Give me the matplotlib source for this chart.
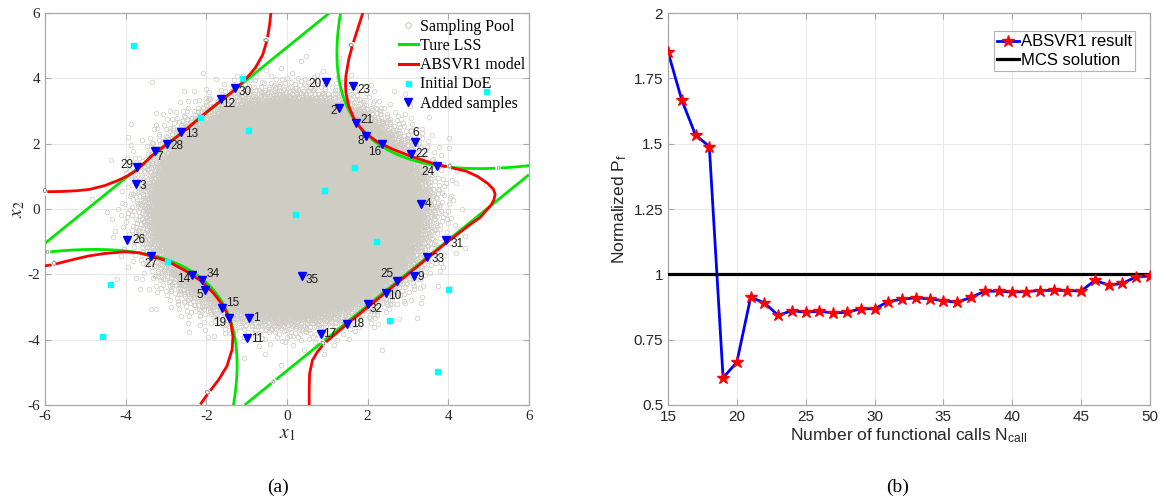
import numpy as np
import matplotlib
matplotlib.use('Agg')
import matplotlib.pyplot as plt
from matplotlib.lines import Line2D

plt.rcParams['font.family'] = ['Liberation Serif', 'DejaVu Serif']
plt.rcParams['mathtext.fontset'] = 'stix'
plt.rcParams['axes.unicode_minus'] = False

SANS = ['Liberation Sans', 'DejaVu Sans']

# ---------------- data: panel (a) ----------------
# initial design of experiments (15 points)
doe_x1 = [-3.81, -1.11, -2.15, -0.97, 1.67, 0.91, 0.20, 4.94, 2.21, -2.97, -4.39, -4.59, 3.98, 2.54, 3.73]
doe_x2 = [5.01, 4.00, 2.83, 2.43, 1.30, 0.59, -0.16, 3.62, -0.97, -1.58, -2.31, -3.88, -2.46, -3.41, -4.95]

# added samples 1..35
add_x1 = [-0.93, 1.28, -3.75, 3.33, -2.03, 3.17, -3.27, 1.97, 3.16, 2.46,
          -0.98, -1.64, -2.62, -2.35, -1.60, 2.36, 0.84, 1.49, -1.45, 0.97,
          1.72, 3.07, 1.64, 3.72, 2.72, -3.96, -3.36, -2.98, -3.73, -1.29,
          3.95, 2.00, 3.48, -2.11, 0.38]
add_x2 = [-3.34, 3.08, 0.76, 0.14, -2.47, 2.06, 1.78, 2.24, -2.05, -2.56,
          -3.95, 3.36, 2.35, -2.01, -3.02, 1.99, -3.83, -3.51, -3.34, 3.90,
          2.63, 1.69, 3.76, 1.31, -2.21, -0.96, -1.43, 1.99, 1.29, 3.70,
          -0.96, -2.90, -1.47, -2.18, -2.05]
# label placement (offset in points, horizontal alignment)
lab_dx = [2.5, -1.5, 2.5, 2.5, -1.5, 0.5, 1, -1.5, 2.5, 1.5,
          2.5, 1, 2.5, -1.5, 2.5, -1, 1.5, 2.5, -1.5, -3,
          3, 3, 3, -1.5, -2, 3.5, -0.5, 2.5, -2, 2.5,
          3, 1.5, 3, 3, 2.5]
lab_dy = [0, -2, -1, 0, -4, 6, -4.5, -3.5, -1, -2.5,
          -1, -3.5, -1, -3, 3, -6, 0, 0, -3.5, -1.5,
          2.5, 0, -2.5, -4.5, 5, 0, -6, -1.5, 1.5, -3,
          -2.5, -4, -1.5, 4.5, -3]
lab_ha = ['left', 'right', 'left', 'left', 'right', 'center', 'left', 'right', 'left', 'left',
          'left', 'left', 'left', 'right', 'left', 'right', 'left', 'left', 'right', 'right',
          'left', 'left', 'left', 'right', 'right', 'left', 'center', 'left', 'right', 'left',
          'left', 'left', 'left', 'left', 'left']

# ABSVR1 model limit state
red_ul_x = [-6.0, -5.6, -5.2, -4.9, -4.51, -4.18, -3.93, -3.73, -3.27, -2.61, -1.94, -1.28,
            -1.03, -0.9, -0.78, -0.6, -0.49, -0.43, -0.40]
red_ul_y = [0.53, 0.535, 0.56, 0.60, 0.72, 0.88, 1.03, 1.18, 1.72, 2.32, 3.02, 3.66,
            3.97, 4.15, 4.33, 4.73, 5.19, 5.65, 6.0]
red_ur_x = [1.88, 1.75, 1.63, 1.53, 1.46, 1.45, 1.46, 1.53, 1.67, 1.88, 2.21, 2.62, 3.12,
            3.61, 4.02, 4.44, 4.72, 4.98, 5.12, 5.16, 5.13, 5.06, 4.93, 4.78, 4.60, 3.93,
            2.69, 1.50, 0.92, 0.75, 0.63, 0.56, 0.55, 0.55]
red_ur_y = [6.0, 5.5, 5.04, 4.58, 4.07, 3.8, 3.56, 3.15, 2.74, 2.39, 2.08, 1.83, 1.59,
            1.40, 1.28, 1.16, 1.0, 0.78, 0.60, 0.45, 0.28, 0.12, -0.06, -0.27, -0.42, -1.05,
            -2.31, -3.51, -4.12, -4.38, -4.63, -5.04, -5.55, -6.0]
red_ll_x = [-6.0, -5.78, -5.51, -4.93, -4.51, -4.02, -3.68, -3.35, -2.94, -2.52, -2.11, -1.82,
            -1.57, -1.40, -1.34, -1.36, -1.49, -1.69, -1.94, -2.15]
red_ll_y = [-1.74, -1.70, -1.61, -1.44, -1.36, -1.31, -1.34, -1.44, -1.61, -1.89, -2.22, -2.58,
            -2.98, -3.44, -3.90, -4.30, -4.81, -5.22, -5.62, -5.98]
red_lab_idx = {'ul': [0, 16], 'ur': [2, 14, 28], 'll': [1, 18]}

# ---------------- data: panel (b) ----------------
n_call = list(range(15, 51))
pf_norm = [1.851, 1.667, 1.533, 1.489, 0.604, 0.664, 0.912, 0.891, 0.843, 0.861,
           0.855, 0.859, 0.852, 0.855, 0.868, 0.868, 0.896, 0.905, 0.910, 0.906,
           0.899, 0.893, 0.912, 0.935, 0.936, 0.932, 0.934, 0.938, 0.939, 0.938,
           0.936, 0.977, 0.959, 0.965, 0.991, 0.993]
mcs_pf = 1.0


# four-branch series system (true limit state function, k = 7)
def g_four_branch(x1, x2, k=7.0):
    s = np.sqrt(2.0)
    b1 = 3 + 0.1 * (x1 - x2) ** 2 - (x1 + x2) / s
    b2 = 3 + 0.1 * (x1 - x2) ** 2 + (x1 + x2) / s
    b3 = (x1 - x2) + k / s
    b4 = (x2 - x1) + k / s
    return np.minimum(np.minimum(b1, b2), np.minimum(b3, b4))


# Monte Carlo sampling pool: standard normal via Halton sequence + Box-Muller
def halton(n, base):
    i = np.arange(1, n + 1)
    f = 1.0
    r = np.zeros(n)
    while np.any(i > 0):
        f /= base
        r += f * (i % base)
        i //= base
    return r


n_pool = 600000
u1 = halton(n_pool, 2)
u2 = halton(n_pool, 3)
rad = np.sqrt(-2.0 * np.log(1.0 - u1))
pool_x1 = rad * np.cos(2 * np.pi * u2)
pool_x2 = rad * np.sin(2 * np.pi * u2)

fig = plt.figure(figsize=(11.74, 5.04), dpi=100)
ax1 = fig.add_axes([45 / 1174, 1 - 405 / 504, 484 / 1174, 392 / 504])
ax2 = fig.add_axes([668 / 1174, 1 - 405 / 504, 482 / 1174, 392 / 504])

spine_c = '#A8A8A8'
for ax in (ax1, ax2):
    for sp in ax.spines.values():
        sp.set_color(spine_c)
        sp.set_linewidth(0.9)
    ax.tick_params(direction='in', length=4, color=spine_c, top=True, right=True,
                   labelcolor='#262626', labelsize=11)
    ax.grid(True, color='#E8E8E8', lw=0.7)
    ax.set_axisbelow(True)

# ---- panel (a) ----
pool_c = '#CFCCC4'
ax1.plot(pool_x1, pool_x2, 'o', ls='none', mfc='none', mec=pool_c, ms=3.3, mew=0.5, zorder=1)

gx = np.linspace(-6, 6, 701)
GX1, GX2 = np.meshgrid(gx, gx)
cs = ax1.contour(GX1, GX2, g_four_branch(GX1, GX2), levels=[0], colors=['#00E600'],
                 linewidths=2.0, zorder=2)
ax1.clabel(cs, fmt='0', fontsize=5, colors='#404040', inline=True, inline_spacing=1)

red_curves = {'ul': (red_ul_x, red_ul_y), 'ur': (red_ur_x, red_ur_y), 'll': (red_ll_x, red_ll_y)}
for key, (rx, ry) in red_curves.items():
    ax1.plot(rx, ry, color='#FF0000', lw=2.0, solid_capstyle='butt', zorder=3)

ax1.set_xlim(-6, 6)
ax1.set_ylim(-6, 6)
fig.canvas.draw()
for key, (rx, ry) in red_curves.items():
    for i in red_lab_idx[key]:
        j0, j1 = max(i - 1, 0), min(i + 1, len(rx) - 1)
        p0 = ax1.transData.transform((rx[j0], ry[j0]))
        p1 = ax1.transData.transform((rx[j1], ry[j1]))
        ang = np.degrees(np.arctan2(p1[1] - p0[1], p1[0] - p0[0]))
        if ang > 90:
            ang -= 180
        if ang < -90:
            ang += 180
        ax1.text(rx[i], ry[i], '0', fontsize=5, color='#404040', rotation=ang,
                 ha='center', va='center', family=SANS, zorder=3.5,
                 bbox=dict(boxstyle='square,pad=0.05', fc='white', ec='none'))

ax1.plot(doe_x1, doe_x2, 's', ls='none', color='#00FFFF', ms=3.6, zorder=4)
ax1.plot(add_x1, add_x2, 'v', ls='none', color='#0000FF', ms=5.5, zorder=5)
for i in range(len(add_x1)):
    ax1.annotate(str(i + 1), (add_x1[i], add_x2[i]), xytext=(lab_dx[i], lab_dy[i]),
                 textcoords='offset points', ha=lab_ha[i], va='center',
                 fontsize=8.5, family=SANS, color='#1A1A1A', zorder=6)

ax1.set_xticks(range(-6, 7, 2))
ax1.set_yticks(range(-6, 7, 2))
ax1.set_xlabel('$x_1$', fontsize=14, labelpad=2, color='#262626')
ax1.set_ylabel('$x_2$', fontsize=14, labelpad=0, color='#262626')

h_pool = Line2D([], [], marker='o', ls='none', mfc='none', mec='#BDBAB2', ms=4, mew=0.6)
h_true = Line2D([], [], color='#00E600', lw=2.2)
h_red = Line2D([], [], color='#FF0000', lw=2.2)
h_doe = Line2D([], [], marker='s', ls='none', color='#00FFFF', ms=3.6)
h_add = Line2D([], [], marker='v', ls='none', color='#0000FF', ms=5.5)
ax1.legend([h_pool, h_true, h_red, h_doe, h_add],
           ['Sampling Pool', 'Ture LSS', 'ABSVR1 model', 'Initial DoE', 'Added samples'],
           loc='upper left', bbox_to_anchor=(0.731, 0.985), frameon=False, borderpad=0,
           borderaxespad=0, handlelength=1.2, handletextpad=0.15, labelspacing=0.2,
           prop={'family': 'Liberation Serif', 'size': 11.5})

# ---- panel (b) ----
ax2.plot(n_call, pf_norm, '-', color='#0000FF', lw=2.0, zorder=2)
ax2.axhline(mcs_pf, color='black', lw=2.3, zorder=3)
ax2.plot(n_call, pf_norm, '*', ls='none', color='#FF0000', ms=9, mec='#FF0000', zorder=4)
ax2.set_xlim(15, 50)
ax2.set_ylim(0.5, 2)
ax2.set_xticks(range(15, 51, 5))
yt = [0.5, 0.75, 1, 1.25, 1.5, 1.75, 2]
ax2.set_yticks(yt)
ax2.set_yticklabels(['0.5', '0.75', '1', '1.25', '1.5', '1.75', '2'])
for lab in ax2.get_xticklabels() + ax2.get_yticklabels():
    lab.set_family(SANS)
ax2.set_xlabel(r'Number of functional calls N$_{\mathregular{call}}$', fontsize=12.5,
               family=SANS, color='#262626', labelpad=2)
ax2.set_ylabel(r'Normalized P$_{\mathregular{f}}$', fontsize=12.5, family=SANS,
               color='#262626', labelpad=3)

h_abs = Line2D([], [], color='#0000FF', lw=2.0, marker='*', ms=9, mfc='#FF0000', mec='#FF0000')
h_mcs = Line2D([], [], color='black', lw=2.3)
leg2 = ax2.legend([h_abs, h_mcs], ['ABSVR1 result', 'MCS solution'], loc='upper right',
                  bbox_to_anchor=(0.969, 0.954), borderaxespad=0, borderpad=0.2,
                  handlelength=1.3, handletextpad=0.1, labelspacing=0.2, fancybox=False,
                  prop={'family': SANS, 'size': 12})
leg2.get_frame().set_edgecolor('#A0A0A0')
leg2.get_frame().set_linewidth(0.8)

fig.text(278 / 1174, 1 - 487 / 504, '(a)', ha='center', va='center', fontsize=14)
fig.text(898 / 1174, 1 - 487 / 504, '(b)', ha='center', va='center', fontsize=14)

fig.savefig('out.png', dpi=100)
